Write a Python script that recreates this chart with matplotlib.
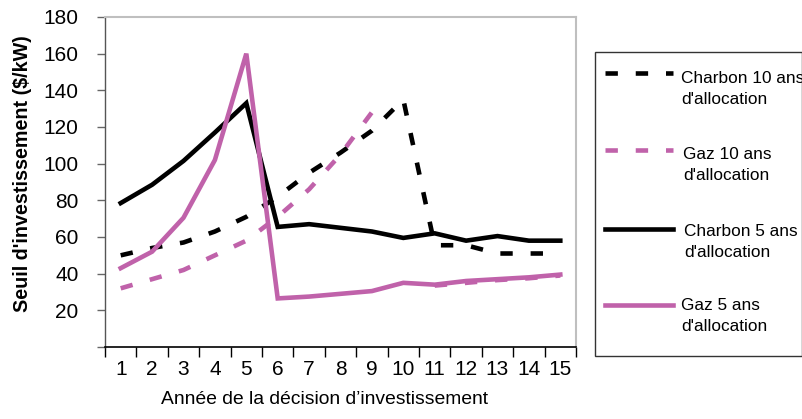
import numpy as np
import matplotlib
matplotlib.use("Agg")
import matplotlib.pyplot as plt
from matplotlib.lines import Line2D
from matplotlib.patches import Rectangle

plt.rcParams['font.family'] = ['Liberation Sans', 'DejaVu Sans']

years = list(range(1, 16))
year_labels = [str(y) for y in years]
charbon_10 = [50, 54, 57, 63, 71, 82, 95, 106, 118, 135, 55.5, 55.5, 51, 51, 51]
gaz_10 = [32, 37, 42, 50, 58, 71, 86, 105, 128, np.nan, 33.5, 35, 36.5, 37.5, 39]
charbon_5 = [78.5, 88.5, 101.5, 117, 133, 65.5, 67, 65, 63, 59.5, 62, 58, 60.5, 58, 58]
gaz_5 = [43, 52, 70.5, 102, 160, 26.5, 27.5, 29, 30.5, 35, 34, 36, 37, 38, 39.5]
series_labels = ["Charbon 10 ans\nd'allocation", "Gaz 10 ans\nd'allocation",
                 "Charbon 5 ans\nd'allocation", "Gaz 5 ans\nd'allocation"]
y_ticks = [0, 20, 40, 60, 80, 100, 120, 140, 160, 180]

PINK = '#C062AA'
BLACK = '#000000'
LW = 3.3
DASH = (2.7, 3.9)

fig = plt.figure(figsize=(8.03, 4.19), dpi=100)
W, H = 803, 419
ax = fig.add_axes([105 / W, 1 - 347 / H, 471 / W, 330 / H])

styles = [
    dict(color=BLACK, ls=(0, DASH)),
    dict(color=PINK, ls=(0, DASH)),
    dict(color=BLACK, ls='-'),
    dict(color=PINK, ls='-'),
]
data = [charbon_10, gaz_10, charbon_5, gaz_5]
for vals, st in zip(data, styles):
    ax.plot(years, vals, color=st['color'], linestyle=st['ls'], lw=LW,
            solid_joinstyle='miter', dash_capstyle='butt')

ax.set_xlim(0.5, 15.5)
ax.set_ylim(0, 180)

# x ticks at category boundaries, labels at centres
ax.set_xticks(np.arange(0.5, 15.6, 1.0))
ax.set_xticklabels([])
ax.set_xticks(years, minor=True)
ax.set_xticklabels(year_labels, minor=True)
ax.tick_params(axis='x', which='major', direction='out', length=7, width=1, color='black')
ax.tick_params(axis='x', which='minor', length=0, pad=9, labelsize=15)

ax.set_yticks(y_ticks)
ax.set_yticklabels([''] + [str(v) for v in y_ticks[1:]])
ax.tick_params(axis='y', direction='out', length=6, width=1, color='#666666',
               pad=13, labelsize=15)

for s in ['top', 'right']:
    ax.spines[s].set_color('#BFBFBF')
    ax.spines[s].set_linewidth(1.5)
ax.spines['left'].set_color('#555555')
ax.spines['left'].set_linewidth(1)
ax.spines['bottom'].set_color('black')
ax.spines['bottom'].set_linewidth(1.2)

ax.set_xlabel("Année de la décision d’investissement", fontsize=13.9)
ax.xaxis.set_label_coords(0.467, -0.133)
ax.set_ylabel("Seuil d'investissement ($/kW)", fontsize=14.2, fontweight='bold')
ax.yaxis.set_label_coords(-0.155, 0.526)

# legend box drawn in figure pixels
fig.patches.append(Rectangle((595 / W, 1 - 356 / H), (802 - 595) / W, (356 - 52) / H,
                             transform=fig.transFigure, fill=False,
                             edgecolor='#333333', lw=1))
handle_y = [73, 150, 229, 305]
text_y = [89, 165, 241.5, 316]
text_x = [681, 683, 684, 681]
for st, lab, hy, ty, tx in zip(styles, series_labels, handle_y, text_y, text_x):
    fig.add_artist(Line2D([605 / W, 673 / W], [1 - hy / H, 1 - hy / H],
                          transform=fig.transFigure, color=st['color'],
                          linestyle=st['ls'], lw=LW, dash_capstyle='butt'))
    fig.text(tx / W, 1 - ty / H, lab, fontsize=12.4, ha='left', va='center',
             linespacing=1.5)

fig.savefig('out.png', dpi=100)
